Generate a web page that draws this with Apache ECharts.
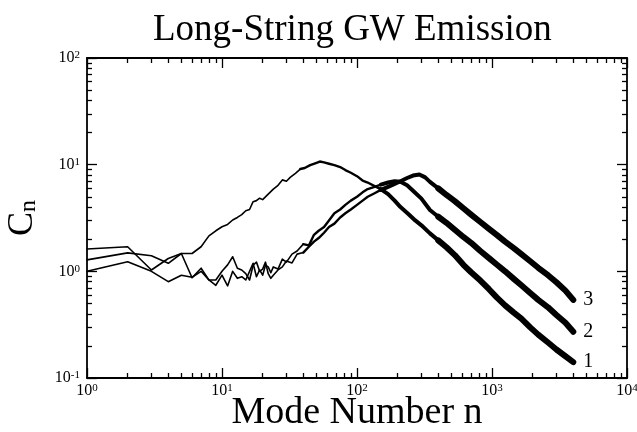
<!DOCTYPE html>
<html>
<head>
<meta charset="utf-8">
<script src="https://cdn.jsdelivr.net/npm/echarts@6/dist/echarts.min.js"></script>
<style>
  html, body { margin: 0; padding: 0; background: #fff; }
  #chart { width: 637px; height: 432px; }
</style>
</head>
<body>
<div id="chart"></div>
<script>
// axis ranges and tick positions
const xRange = [1, 10000];
const yRange = [0.1, 100];
const xMajorTicks = [1, 10, 100, 1000, 10000];
const yMajorTicks = [0.1, 1, 10, 100];
const xMinorTicks = [2, 3, 4, 5, 6, 7, 8, 9, 20, 30, 40, 50, 60, 70, 80, 90,
  200, 300, 400, 500, 600, 700, 800, 900, 2000, 3000, 4000, 5000, 6000, 7000, 8000, 9000];
const yMinorTicks = [0.2, 0.3, 0.4, 0.5, 0.6, 0.7, 0.8, 0.9, 2, 3, 4, 5, 6, 7, 8, 9,
  20, 30, 40, 50, 60, 70, 80, 90];

const curveNames = ["1", "2", "3"];

// [mode number n, C_n]
const curve1 = [
  [1, 1.28], [2, 1.49], [3, 1.40], [4, 1.19], [5, 1.47], [6, 1.47], [7, 1.70], [8, 2.15],
  [9, 2.40], [10, 2.62], [11, 2.75], [12, 3.03], [13, 3.20], [14, 3.40], [15, 3.70], [16, 3.80],
  [17, 4.50], [18, 4.60], [19, 4.85], [20, 4.70], [22, 5.30], [24, 5.90], [26, 6.40], [28, 7.20],
  [30, 7.00], [32, 7.60], [35, 8.30], [38, 9.10], [41, 9.30], [45, 9.90], [49, 10.3], [53, 10.7],
  [57, 10.5], [62, 10.2], [68, 9.90], [75, 9.50], [82, 8.90], [90, 8.40], [100, 7.80], [110, 7.10],
  [120, 6.80], [135, 6.30], [150, 5.90], [170, 5.30], [190, 4.60], [210, 4.00], [240, 3.45],
  [270, 3.00], [300, 2.70], [347, 2.27], [400, 1.95], [460, 1.68], [530, 1.42], [614, 1.15],
  [700, 0.98], [820, 0.82], [950, 0.68], [1084, 0.57], [1250, 0.48], [1450, 0.41], [1650, 0.36],
  [1910, 0.30], [2200, 0.255], [2600, 0.215], [3000, 0.185], [3500, 0.16], [4000, 0.141]
];
const curve2 = [
  [1, 1.62], [2, 1.70], [3, 1.03], [4, 1.32], [5, 1.47], [6, 0.87], [7, 1.07], [8, 0.83],
  [9, 0.74], [10, 0.92], [11, 0.73], [12, 1.00], [13, 0.86], [14, 0.89], [15, 0.83], [16, 1.00],
  [17, 1.19], [18, 0.89], [19, 1.03], [20, 0.92], [21, 1.14], [22, 1.10], [23, 0.97], [24, 1.10],
  [26, 1.05], [28, 1.30], [30, 1.22], [33, 1.45], [36, 1.55], [40, 1.80], [44, 1.75], [48, 2.20],
  [52, 2.40], [57, 2.60], [62, 3.00], [68, 3.50], [75, 3.80], [82, 4.20], [90, 4.60], [100, 5.00],
  [110, 5.50], [120, 5.90], [135, 6.20], [150, 6.50], [170, 6.80], [190, 7.00], [210, 6.90],
  [235, 6.40], [260, 5.70], [300, 4.80], [347, 3.76], [400, 3.25], [460, 2.85], [530, 2.45],
  [614, 2.10], [700, 1.85], [820, 1.55], [950, 1.33], [1084, 1.16], [1250, 1.00], [1450, 0.85],
  [1650, 0.74], [1910, 0.63], [2200, 0.54], [2600, 0.46], [3000, 0.39], [3500, 0.33], [4000, 0.271]
];
const curve3 = [
  [1, 1.00], [2, 1.23], [3, 1.00], [4, 0.80], [5, 0.92], [6, 0.88], [7, 1.00], [8, 0.83],
  [9, 0.83], [10, 1.00], [11, 1.15], [12, 1.37], [13, 1.07], [14, 1.03], [15, 0.95], [16, 0.83],
  [17, 1.14], [18, 1.22], [19, 1.00], [20, 1.05], [21, 1.22], [22, 0.95], [23, 0.86], [24, 0.92],
  [26, 1.03], [28, 1.10], [30, 1.25], [33, 1.20], [36, 1.45], [40, 1.50], [44, 1.70], [48, 1.90],
  [52, 2.05], [57, 2.30], [62, 2.60], [68, 2.80], [75, 3.20], [82, 3.50], [90, 3.80], [100, 4.20],
  [110, 4.60], [120, 5.00], [135, 5.40], [150, 5.80], [170, 6.20], [190, 6.60], [210, 7.00],
  [235, 7.50], [260, 7.90], [290, 8.10], [320, 7.60], [347, 6.90], [400, 6.00], [460, 5.20],
  [530, 4.55], [614, 3.90], [700, 3.40], [820, 2.90], [950, 2.50], [1084, 2.20], [1250, 1.90],
  [1450, 1.65], [1650, 1.45], [1910, 1.25], [2200, 1.08], [2600, 0.92], [3000, 0.79], [3500, 0.66],
  [4000, 0.54]
];
const curves = [curve1, curve2, curve3];

const serif = "'Liberation Serif', 'DejaVu Serif', serif";
const chart = echarts.init(document.getElementById("chart"));

// the noise band gets thicker at high n: draw each curve in pieces of growing width
const widthTiers = [[40, 1.6], [150, 2.4], [400, 4], [Infinity, 6]];

function pieces(points) {
  const out = [];
  let lo = 0;
  for (const [maxN, width] of widthTiers) {
    const seg = points.filter((p) => p[0] > lo && p[0] <= maxN);
    const prev = points.filter((p) => p[0] <= lo).pop();
    if (prev) seg.unshift(prev);
    if (seg.length > 1) out.push({ data: seg, width });
    lo = maxN;
  }
  return out;
}

function powerLabel(v) {
  return "10{sup|" + Math.round(Math.log10(v)) + "}";
}

const labelStyle = {
  fontFamily: serif,
  fontSize: 16,
  color: "#000",
  rich: {
    sup: { fontFamily: serif, fontSize: 11, color: "#000", verticalAlign: "top", lineHeight: 10 },
  },
};

function logAxis(dim, position, ticks, tickLen, extra) {
  const range = dim === "x" ? xRange : yRange;
  return Object.assign(
    {
      type: "log",
      logBase: 10,
      position,
      min: range[0],
      max: range[1],
      axisLine: { show: tickLen > 6, onZero: false, lineStyle: { color: "#000", width: 1.8 } },
      axisTick: { show: true, inside: true, length: tickLen, customValues: ticks, lineStyle: { color: "#000", width: 1.3 } },
      axisLabel: { show: false },
      splitLine: { show: false },
      minorTick: { show: false },
    },
    extra || {},
  );
}

const series = [];
curves.forEach((points, i) => {
  const parts = pieces(points);
  parts.forEach((part, j) => {
    const last = j === parts.length - 1;
    series.push({
      name: curveNames[i],
      type: "line",
      xAxisIndex: 0,
      yAxisIndex: 0,
      data: part.data,
      showSymbol: false,
      symbol: "none",
      silent: true,
      lineStyle: { color: "#000", width: part.width, cap: "round", join: "round" },
      endLabel: last
        ? { show: true, formatter: "{a}", distance: 10, fontFamily: serif, fontSize: 20, color: "#000" }
        : { show: false },
    });
  });
});

chart.setOption({
  animation: false,
  backgroundColor: "#fff",
  title: {
    text: "Long-String GW Emission",
    left: 148,
    top: 7,
    textStyle: { fontFamily: serif, fontSize: 37, fontWeight: "normal", color: "#000" },
  },
  grid: { left: 87, right: 10, top: 58, bottom: 54, containLabel: false, outerBoundsMode: "none" },
  xAxis: [
    logAxis("x", "bottom", xMajorTicks, 10, {
      name: "Mode Number n",
      nameLocation: "middle",
      nameGap: 16,
      nameMoveOverlap: false,
      nameTextStyle: { fontFamily: serif, fontSize: 38, color: "#000" },
      axisLabel: Object.assign({ show: true, customValues: xMajorTicks, formatter: powerLabel, margin: 5 }, labelStyle),
    }),
    logAxis("x", "bottom", xMinorTicks, 5),
    logAxis("x", "top", xMajorTicks, 10),
    logAxis("x", "top", xMinorTicks, 5),
  ],
  yAxis: [
    logAxis("y", "left", yMajorTicks, 10, {
      name: "{c|C}{s|n}",
      nameLocation: "middle",
      nameGap: 46,
      nameRotate: 90,
      nameMoveOverlap: false,
      nameTextStyle: {
        rich: {
          c: { fontFamily: serif, fontSize: 36, color: "#000", lineHeight: 36, verticalAlign: "bottom" },
          s: { fontFamily: serif, fontSize: 24, color: "#000", lineHeight: 24, verticalAlign: "bottom" },
        },
      },
      axisLabel: Object.assign({ show: true, customValues: yMajorTicks, formatter: powerLabel, margin: 7 }, labelStyle),
    }),
    logAxis("y", "left", yMinorTicks, 5),
    logAxis("y", "right", yMajorTicks, 10),
    logAxis("y", "right", yMinorTicks, 5),
  ],
  series,
});

window.addEventListener("resize", () => chart.resize());
</script>
</body>
</html>
